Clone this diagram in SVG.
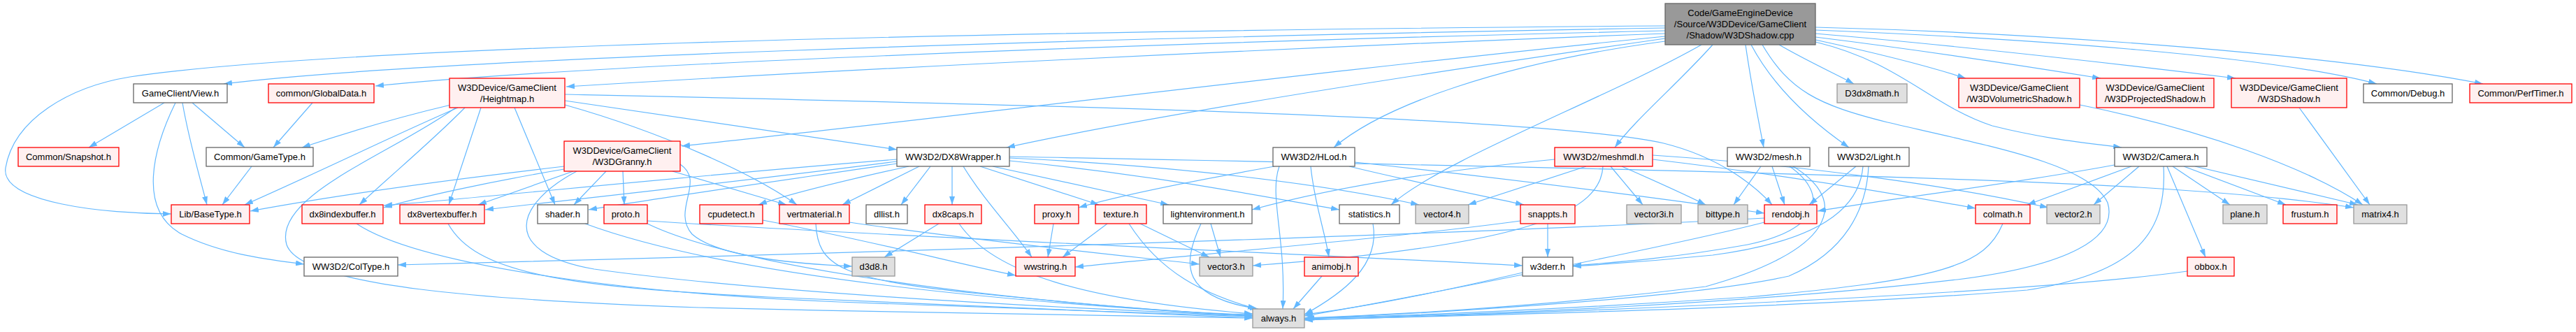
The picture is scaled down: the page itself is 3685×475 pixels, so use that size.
<svg xmlns="http://www.w3.org/2000/svg" width="3685" height="475" viewBox="0 0 3685 475">
<style>
.e path{fill:none;stroke:#63b8ff;stroke-width:1.2;marker-end:url(#ah)}
.n rect{stroke-width:1.3}
.w rect{fill:#fff;stroke:#666}
.r rect{fill:#fff0f0;stroke:#ff0000}
.x rect{fill:#e0e0e0;stroke:#999}
.root rect{fill:#999;stroke:#666}
text{font-family:"Liberation Sans",Arial,sans-serif;font-size:13px;fill:#000;text-anchor:middle}
</style>
<defs>
<marker id="ah" viewBox="0 0 12 8" refX="12" refY="4" markerWidth="12" markerHeight="8" orient="auto" markerUnits="userSpaceOnUse"><path d="M0,0 L12,4 L0,8 z" fill="#63b8ff"/></marker>
</defs>
<rect width="3685" height="475" fill="#fff"/>
<g id="edges" class="e">
<path d="M2382,37 C1300,45 450,70 186,110 C100,124 20,170 8,240 C0,290 150,306 245,306"/>
<path d="M2382,40 C1500,55 600,85 320,120"/>
<path d="M2382,44 C1600,62 800,95 537,123"/>
<path d="M2382,48 C1800,70 1200,100 810,124"/>
<path d="M2382,52 C1900,100 1300,175 975,209"/>
<path d="M2382,55 C2000,110 1650,165 1440,211"/>
<path d="M2382,59 C2150,90 1980,150 1908,211"/>
<path d="M2434,64 C2300,140 2060,230 1990,293"/>
<path d="M2450,64 C2400,120 2340,170 2310,211"/>
<path d="M2497,64 C2505,120 2515,170 2523,211"/>
<path d="M2505,64 C2540,130 2600,180 2645,211"/>
<path d="M2521,64 C2560,130 2600,150 2700,175 C2850,210 2990,235 3015,290 C3030,340 2960,380 2800,400 C2500,435 2100,452 1868,455"/>
<path d="M2545,64 C2590,90 2625,105 2652,120"/>
<path d="M2597,60 C2720,90 2760,150 2850,180 C2930,200 2990,205 3035,211"/>
<path d="M2597,57 C2680,75 2760,95 2812,112"/>
<path d="M2597,53 C2750,72 2900,95 3005,112"/>
<path d="M2597,48 C2800,65 3060,95 3198,112"/>
<path d="M2597,43 C2900,55 3250,80 3400,120"/>
<path d="M2597,39 C2950,48 3350,80 3552,120"/>
<path d="M235,147 L127,211"/>
<path d="M275,147 L350,211"/>
<path d="M261,147 C270,200 285,250 296,293"/>
<path d="M251,147 C220,210 195,300 260,335 C320,365 390,372 435,378"/>
<path d="M447,147 L391,211"/>
<path d="M360,238 L318,293"/>
<path d="M645,150 C560,170 480,195 432,211"/>
<path d="M655,154 C560,195 470,240 350,293"/>
<path d="M665,154 C620,200 560,250 514,293"/>
<path d="M688,154 L642,293"/>
<path d="M736,154 L794,293"/>
<path d="M652,154 C560,220 390,280 410,350 C430,410 700,430 1000,440 C1300,448 1650,452 1792,455"/>
<path d="M808,150 C950,190 1080,250 1140,293"/>
<path d="M808,144 C1000,172 1150,195 1283,214"/>
<path d="M808,135 C1400,148 2200,165 2380,205 C2460,225 2510,265 2535,293"/>
<path d="M807,238 C600,262 450,285 358,302"/>
<path d="M807,242 C700,260 600,282 549,297"/>
<path d="M820,245 L684,293"/>
<path d="M867,245 L821,293"/>
<path d="M891,245 L893,293"/>
<path d="M962,245 L1125,293"/>
<path d="M825,245 C740,290 710,360 850,385 C1100,420 1500,440 1792,452"/>
<path d="M973,235 C1010,260 960,300 990,335 C1030,370 1150,378 1219,381"/>
<path d="M1283,228 C1000,250 700,282 549,294"/>
<path d="M1283,231 C1100,255 850,282 694,300"/>
<path d="M1283,234 C1120,258 950,282 842,300"/>
<path d="M1300,238 C1200,260 1120,280 1085,293"/>
<path d="M1315,238 L1205,293"/>
<path d="M1331,238 L1289,293"/>
<path d="M1362,238 L1362,293"/>
<path d="M1378,238 C1410,290 1450,330 1476,368"/>
<path d="M1402,238 L1572,293"/>
<path d="M1420,238 L1672,293"/>
<path d="M1444,230 C1650,250 1800,280 1916,300"/>
<path d="M1444,226 C1700,238 1900,265 2030,293"/>
<path d="M1444,224 C2000,235 2700,248 3060,268 C3250,280 3320,290 3367,297"/>
<path d="M1343,320 L1265,368"/>
<path d="M1372,320 C1420,390 1550,430 1792,449"/>
<path d="M1507,320 L1499,368"/>
<path d="M1584,320 L1520,368"/>
<path d="M1631,320 L1730,368"/>
<path d="M1615,320 C1660,390 1720,420 1797,442"/>
<path d="M1732,320 L1746,368"/>
<path d="M1718,320 C1690,380 1690,425 1800,442"/>
<path d="M510,320 C600,380 900,420 1200,432 C1500,442 1700,450 1792,453"/>
<path d="M641,320 C680,390 800,410 1100,425 C1400,438 1650,448 1792,455"/>
<path d="M837,320 C1000,380 1300,425 1792,452"/>
<path d="M926,320 C1050,380 1400,430 1792,452"/>
<path d="M926,316 C1300,340 1800,360 2178,380"/>
<path d="M1091,315 C1250,345 1380,380 1453,394"/>
<path d="M1167,320 C1170,380 1200,400 1400,420 C1600,440 1700,448 1792,450"/>
<path d="M1215,318 C1400,345 1600,365 1716,378"/>
<path d="M1964,320 C1975,380 1920,420 1866,450"/>
<path d="M1891,395 L1850,442"/>
<path d="M2214,320 L2214,368"/>
<path d="M2175,316 C2000,340 1700,365 1538,382"/>
<path d="M2178,390 C2050,420 1950,440 1866,450"/>
<path d="M1875,238 C1880,290 1895,330 1901,368"/>
<path d="M1823,238 C1700,260 1600,280 1543,297"/>
<path d="M1930,238 C2020,260 2120,280 2180,293"/>
<path d="M1830,238 C1815,280 1840,340 1835,442"/>
<path d="M1938,232 C2150,255 2350,280 2524,305"/>
<path d="M2224,228 C2050,245 1900,270 1791,300"/>
<path d="M2269,238 L2100,293"/>
<path d="M2304,238 L2350,293"/>
<path d="M2320,238 C2370,260 2410,278 2440,293"/>
<path d="M2293,238 C2290,300 2200,350 1792,380"/>
<path d="M2364,228 C2550,250 2700,275 2826,298"/>
<path d="M2364,222 C2600,238 2800,268 2930,297"/>
<path d="M2519,238 L2480,293"/>
<path d="M2535,238 L2553,293"/>
<path d="M2560,238 C2620,280 2600,330 2500,350 C2400,368 2320,375 2250,380"/>
<path d="M2565,238 C2650,290 2620,360 2440,410 C2200,440 2000,450 1866,455"/>
<path d="M2655,238 L2588,293"/>
<path d="M2673,238 C2670,300 2640,360 2559,395 C2400,430 2000,450 1866,456"/>
<path d="M2665,238 C2660,300 2600,345 2450,365 C2350,375 2300,378 2250,381"/>
<path d="M3030,235 C2900,260 2700,285 2600,302"/>
<path d="M3049,238 L2900,293"/>
<path d="M3060,238 L2995,293"/>
<path d="M3108,238 L3190,293"/>
<path d="M3124,238 L3270,293"/>
<path d="M3140,238 L3373,293"/>
<path d="M3095,238 C3100,330 3060,390 2900,415 C2600,440 2100,452 1866,457"/>
<path d="M3100,238 L3155,368"/>
<path d="M3129,388 C2900,420 2300,445 1866,458"/>
<path d="M2524,318 C2400,350 2000,430 1866,452"/>
<path d="M2524,312 C2000,340 1000,368 569,379"/>
<path d="M2865,320 C2840,380 2780,400 2500,425 C2200,445 2000,452 1866,456"/>
<path d="M2975,150 C3150,185 3300,240 3380,293"/>
<path d="M3289,154 L3390,293"/>
</g>
<g id="root" class="n root"><rect x="2382" y="5" width="215" height="59"/><text x="2489.5" y="22.5">Code/GameEngineDevice</text><text x="2489.5" y="38.5">/Source/W3DDevice/GameClient</text><text x="2489.5" y="54.5">/Shadow/W3DShadow.cpp</text></g>
<g id="n_view" class="n w"><rect x="191" y="120" width="134" height="27"/><text x="258" y="138">GameClient/View.h</text></g>
<g id="n_globaldata" class="n r"><rect x="384" y="120" width="151" height="27"/><text x="459.5" y="138">common/GlobalData.h</text></g>
<g id="n_heightmap" class="n r"><rect x="643" y="112" width="165" height="42"/><text x="725.5" y="130">W3DDevice/GameClient</text><text x="725.5" y="146">/Heightmap.h</text></g>
<g id="n_d3dx8math" class="n x"><rect x="2628" y="120" width="100" height="27"/><text x="2678" y="138">D3dx8math.h</text></g>
<g id="n_volshadow" class="n r"><rect x="2802" y="112" width="173" height="42"/><text x="2888.5" y="130">W3DDevice/GameClient</text><text x="2888.5" y="146">/W3DVolumetricShadow.h</text></g>
<g id="n_projshadow" class="n r"><rect x="2999" y="112" width="168" height="42"/><text x="3083" y="130">W3DDevice/GameClient</text><text x="3083" y="146">/W3DProjectedShadow.h</text></g>
<g id="n_w3dshadow" class="n r"><rect x="3192" y="112" width="165" height="42"/><text x="3274.5" y="130">W3DDevice/GameClient</text><text x="3274.5" y="146">/W3DShadow.h</text></g>
<g id="n_debug" class="n w"><rect x="3381" y="120" width="127" height="27"/><text x="3444.5" y="138">Common/Debug.h</text></g>
<g id="n_perftimer" class="n r"><rect x="3533" y="120" width="146" height="27"/><text x="3606" y="138">Common/PerfTimer.h</text></g>
<g id="n_snapshot" class="n r"><rect x="26" y="211" width="144" height="27"/><text x="98" y="229">Common/Snapshot.h</text></g>
<g id="n_gametype" class="n w"><rect x="295" y="211" width="153" height="27"/><text x="371.5" y="229">Common/GameType.h</text></g>
<g id="n_granny" class="n r"><rect x="807" y="202" width="166" height="43"/><text x="890" y="220">W3DDevice/GameClient</text><text x="890" y="236">/W3DGranny.h</text></g>
<g id="n_dx8wrapper" class="n w"><rect x="1283" y="211" width="161" height="27"/><text x="1363.5" y="229">WW3D2/DX8Wrapper.h</text></g>
<g id="n_hlod" class="n w"><rect x="1821" y="211" width="117" height="27"/><text x="1879.5" y="229">WW3D2/HLod.h</text></g>
<g id="n_meshmdl" class="n r"><rect x="2224" y="211" width="140" height="27"/><text x="2294" y="229">WW3D2/meshmdl.h</text></g>
<g id="n_mesh" class="n w"><rect x="2471" y="211" width="118" height="27"/><text x="2530" y="229">WW3D2/mesh.h</text></g>
<g id="n_light" class="n w"><rect x="2616" y="211" width="115" height="27"/><text x="2673.5" y="229">WW3D2/Light.h</text></g>
<g id="n_camera" class="n w"><rect x="3025" y="211" width="132" height="27"/><text x="3091" y="229">WW3D2/Camera.h</text></g>
<g id="n_basetype" class="n r"><rect x="245" y="293" width="112" height="27"/><text x="301" y="311">Lib/BaseType.h</text></g>
<g id="n_dx8ib" class="n r"><rect x="432" y="293" width="116" height="27"/><text x="490" y="311">dx8indexbuffer.h</text></g>
<g id="n_dx8vb" class="n r"><rect x="572" y="293" width="121" height="27"/><text x="632.5" y="311">dx8vertexbuffer.h</text></g>
<g id="n_shader" class="n w"><rect x="769" y="293" width="72" height="27"/><text x="805" y="311">shader.h</text></g>
<g id="n_proto" class="n r"><rect x="864" y="293" width="62" height="27"/><text x="895" y="311">proto.h</text></g>
<g id="n_cpudetect" class="n r"><rect x="1001" y="293" width="90" height="27"/><text x="1046" y="311">cpudetect.h</text></g>
<g id="n_vertmaterial" class="n r"><rect x="1115" y="293" width="100" height="27"/><text x="1165" y="311">vertmaterial.h</text></g>
<g id="n_dllist" class="n w"><rect x="1239" y="293" width="59" height="27"/><text x="1268.5" y="311">dllist.h</text></g>
<g id="n_dx8caps" class="n r"><rect x="1323" y="293" width="81" height="27"/><text x="1363.5" y="311">dx8caps.h</text></g>
<g id="n_proxy" class="n r"><rect x="1480" y="293" width="63" height="27"/><text x="1511.5" y="311">proxy.h</text></g>
<g id="n_texture" class="n r"><rect x="1567" y="293" width="73" height="27"/><text x="1603.5" y="311">texture.h</text></g>
<g id="n_lightenv" class="n w"><rect x="1664" y="293" width="127" height="27"/><text x="1727.5" y="311">lightenvironment.h</text></g>
<g id="n_statistics" class="n w"><rect x="1916" y="293" width="86" height="27"/><text x="1959" y="311">statistics.h</text></g>
<g id="n_vector4" class="n x"><rect x="2025" y="293" width="76" height="27"/><text x="2063" y="311">vector4.h</text></g>
<g id="n_snappts" class="n r"><rect x="2175" y="293" width="78" height="27"/><text x="2214" y="311">snappts.h</text></g>
<g id="n_vector3i" class="n x"><rect x="2327" y="293" width="78" height="27"/><text x="2366" y="311">vector3i.h</text></g>
<g id="n_bittype" class="n x"><rect x="2429" y="293" width="71" height="27"/><text x="2464.5" y="311">bittype.h</text></g>
<g id="n_rendobj" class="n r"><rect x="2524" y="293" width="75" height="27"/><text x="2561.5" y="311">rendobj.h</text></g>
<g id="n_colmath" class="n r"><rect x="2826" y="293" width="78" height="27"/><text x="2865" y="311">colmath.h</text></g>
<g id="n_vector2" class="n x"><rect x="2928" y="293" width="76" height="27"/><text x="2966" y="311">vector2.h</text></g>
<g id="n_plane" class="n x"><rect x="3180" y="293" width="63" height="27"/><text x="3211.5" y="311">plane.h</text></g>
<g id="n_frustum" class="n r"><rect x="3266" y="293" width="77" height="27"/><text x="3304.5" y="311">frustum.h</text></g>
<g id="n_matrix4" class="n x"><rect x="3367" y="293" width="76" height="27"/><text x="3405" y="311">matrix4.h</text></g>
<g id="n_coltype" class="n w"><rect x="435" y="368" width="134" height="27"/><text x="502" y="386">WW3D2/ColType.h</text></g>
<g id="n_d3d8" class="n x"><rect x="1219" y="368" width="61" height="27"/><text x="1249.5" y="386">d3d8.h</text></g>
<g id="n_wwstring" class="n r"><rect x="1453" y="368" width="85" height="27"/><text x="1495.5" y="386">wwstring.h</text></g>
<g id="n_vector3" class="n x"><rect x="1716" y="368" width="76" height="27"/><text x="1754" y="386">vector3.h</text></g>
<g id="n_animobj" class="n r"><rect x="1866" y="368" width="77" height="27"/><text x="1904.5" y="386">animobj.h</text></g>
<g id="n_w3derr" class="n w"><rect x="2178" y="368" width="72" height="27"/><text x="2214" y="386">w3derr.h</text></g>
<g id="n_obbox" class="n r"><rect x="3129" y="368" width="67" height="27"/><text x="3162.5" y="386">obbox.h</text></g>
<g id="n_always" class="n x"><rect x="1792" y="442" width="74" height="27"/><text x="1829" y="460">always.h</text></g>
</svg>
